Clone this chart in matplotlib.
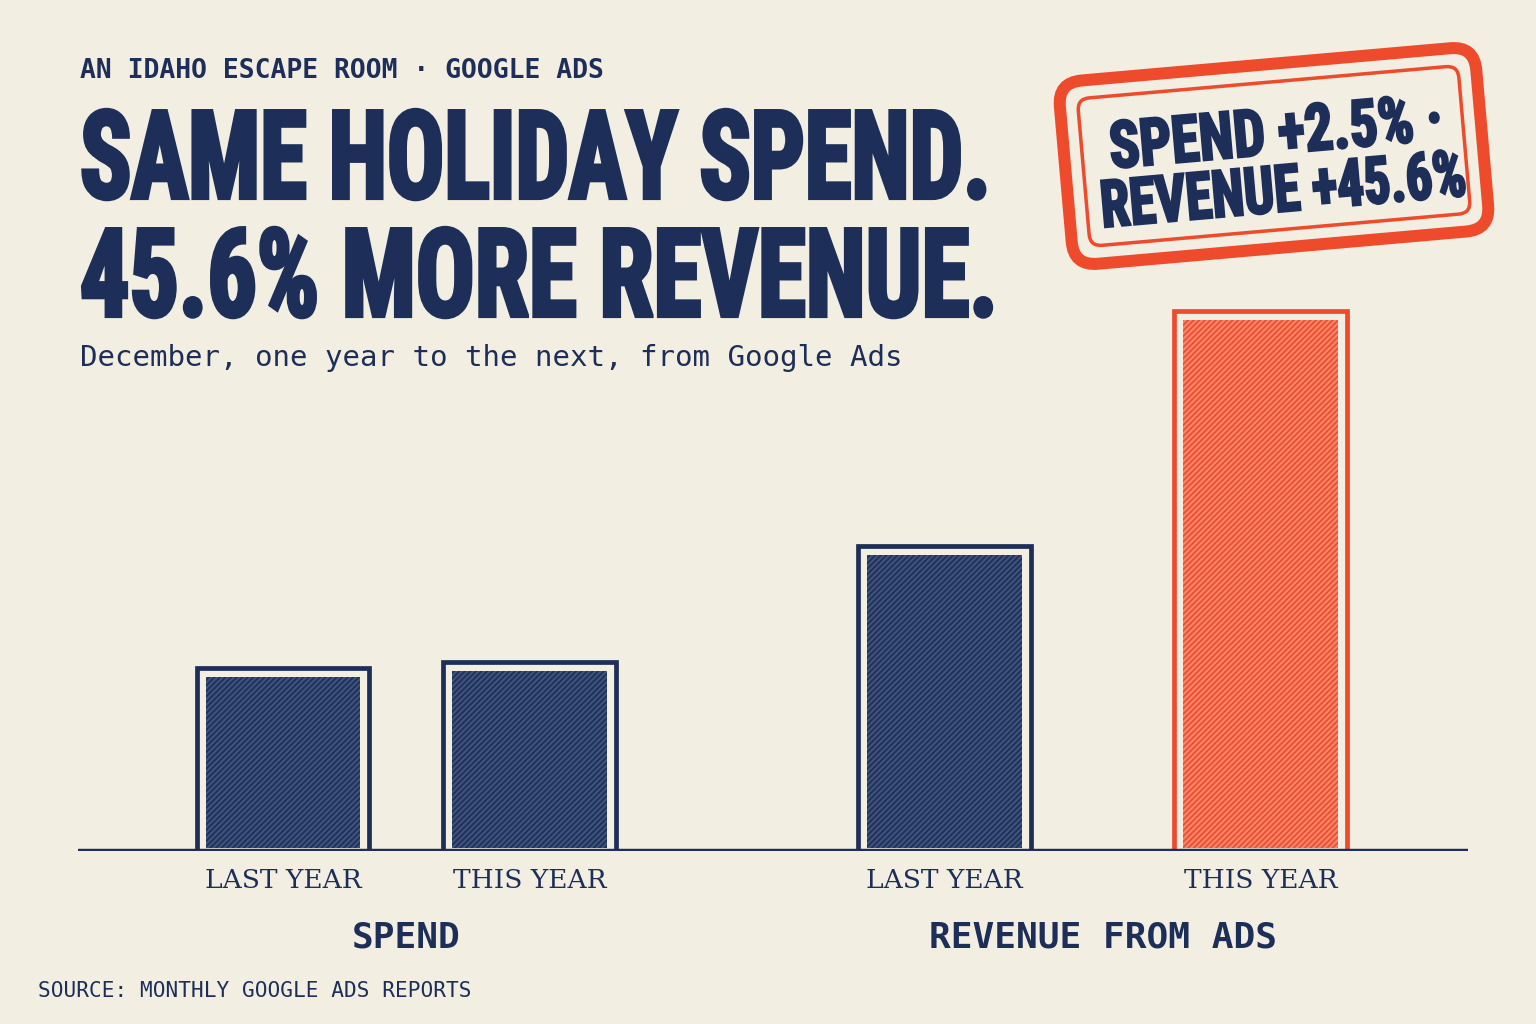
import math
import matplotlib
matplotlib.use('Agg')
import matplotlib.pyplot as plt
from matplotlib import font_manager
from matplotlib.patches import FancyBboxPatch
from matplotlib.transforms import Affine2D, Bbox, blended_transform_factory
from matplotlib.patheffects import AbstractPathEffect

# ---------------- data ----------------
categories = ['LAST YEAR', 'THIS YEAR', 'LAST YEAR', 'THIS YEAR']
groups = ['SPEND', 'REVENUE FROM ADS']
spend_values = [183, 189]        # bar heights (relative units)
revenue_values = [305, 540]
kicker = 'AN IDAHO ESCAPE ROOM · GOOGLE ADS'
headline = ['SAME HOLIDAY SPEND.', '45.6% MORE REVENUE.']
subtitle = 'December, one year to the next, from Google Ads'
stamp_lines = ['SPEND +2.5% ·', 'REVENUE +45.6%']
source = 'SOURCE: MONTHLY GOOGLE ADS REPORTS'

NAVY = '#1d2f58'
RED = '#ee4b2d'
BG = '#f3eee2'
W, H = 1536, 1024

plt.rcParams['hatch.linewidth'] = 1.6

# pick the narrowest available display family
_names = {f.name for f in font_manager.fontManager.ttflist}
DISPLAY = 'DejaVu Sans'
for cand in ['Roboto Condensed', 'Liberation Sans Narrow', 'Open Sans Condensed']:
    if cand in _names:
        DISPLAY = cand
        break


class Squeeze(AbstractPathEffect):
    """Draw text horizontally condensed (and optionally thickened)."""
    def __init__(self, sx, anchor='left', stroke=0.0):
        super().__init__()
        self.sx, self.anchor, self.stroke = sx, anchor, stroke

    def draw_path(self, renderer, gc, tpath, affine, rgbFace=None):
        if self.anchor == 'center':
            ext = tpath.get_extents()
            c = 0.5 * (ext.x0 + ext.x1)
        else:
            c = 0.0
        tr = Affine2D().translate(-c, 0).scale(self.sx, 1).translate(c, 0) + affine
        gc0 = renderer.new_gc()
        gc0.copy_properties(gc)
        if self.stroke > 0 and rgbFace is not None:
            gc0.set_linewidth(self.stroke)
            gc0.set_foreground(rgbFace)
            gc0.set_joinstyle('miter')
        renderer.draw_path(gc0, tpath, tr, rgbFace)
        gc0.restore()


def squeeze_text(t, sx, anchor, stroke):
    t.set_path_effects([Squeeze(sx, anchor, stroke)])
    orig = t.get_window_extent

    def _extent(renderer=None, dpi=None):
        bb = orig(renderer, dpi)
        if anchor == 'center':
            c = 0.5 * (bb.x0 + bb.x1)
        else:
            c = bb.x0
        return Bbox([[c + (bb.x0 - c) * sx, bb.y0], [c + (bb.x1 - c) * sx, bb.y1]])
    t.get_window_extent = _extent


fig = plt.figure(figsize=(W / 100, H / 100), dpi=100, facecolor=BG)
pix = Affine2D().scale(1 / W, 1 / H) + fig.transFigure

# ---------------- bars ----------------
ax = fig.add_axes([78 / W, (H - 851) / H, (1468 - 78) / W, (851 - 300) / H])
ax.set_facecolor('none')
positions = [0, 1, 2.68, 3.96]
values = spend_values + revenue_values
colors = [NAVY, NAVY, NAVY, RED]
hatch_colors = ['#3e527c', '#3e527c', '#3e527c', '#f8866a']
xunit = 247.0
bw = 0.70
inset_x = 9 / xunit
inset_y = 9

ax.bar(positions, values, width=bw, facecolor='none', edgecolor=colors,
       linewidth=3.4, zorder=3)
ax.bar(positions, [v - inset_y - 3 for v in values], bottom=3,
       width=bw - 2 * inset_x, color=colors, edgecolor=hatch_colors,
       linewidth=0, hatch='//////', zorder=2)
ax.axhline(0, color=NAVY, lw=3.2, zorder=4)
ax.set_xlim(-0.83, 4.80)
ax.set_ylim(0, 551)
for s in ax.spines.values():
    s.set_visible(False)
ax.set_yticks([])
ax.set_xticks(positions, categories)
for lab in ax.get_xticklabels():
    lab.set_fontfamily('DejaVu Serif')
    lab.set_fontsize(19)
    lab.set_color(NAVY)
ax.tick_params(axis='x', length=0, pad=12)

trans = blended_transform_factory(ax.transData, ax.transAxes)
group_x = [(positions[0] + positions[1]) / 2, (positions[2] + positions[3]) / 2]
for gx, g in zip(group_x, groups):
    ax.text(gx, -(947 - 851) / 551, g, transform=trans, ha='center', va='baseline',
            fontfamily='DejaVu Sans Mono', fontweight='bold', fontsize=26, color=NAVY)

# ---------------- texts ----------------
fig.text(80, H - 78, kicker, transform=pix, ha='left', va='baseline',
         fontfamily='DejaVu Sans Mono', fontweight='bold', fontsize=19, color=NAVY)

heads = []
for line, base in zip(headline, [200, 318]):
    t = fig.text(80, H - base + 2, line, transform=pix, ha='left', va='baseline',
                 fontfamily=DISPLAY, fontweight='bold', fontstretch='condensed',
                 fontsize=88, color=NAVY)
    heads.append(t)

fig.text(80, H - 366, subtitle, transform=pix, ha='left', va='baseline',
         fontfamily='DejaVu Sans Mono', fontsize=21, color=NAVY)
fig.text(38, H - 997, source, transform=pix, ha='left', va='baseline',
         fontfamily='DejaVu Sans Mono', fontsize=15.2, color=NAVY)

# ---------------- stamp ----------------
cx, cy = 1274, H - 156
rot = Affine2D().rotate_deg_around(cx, cy, 5) + pix
outer = FancyBboxPatch((cx - 209, cy - 92), 418, 184,
                       boxstyle='round,pad=0,rounding_size=24',
                       lw=12 * 0.72, ec=RED, fc='none', transform=rot)
inner = FancyBboxPatch((cx - 191, cy - 74), 382, 148,
                       boxstyle='round,pad=0,rounding_size=12',
                       lw=3.5 * 0.72, ec=RED, fc='none', transform=rot)
fig.add_artist(outer)
fig.add_artist(inner)

stamps = []
for line, (dx, dy) in zip(stamp_lines, [(4, 2), (6, -56)]):
    t = fig.text(cx + dx, cy + dy, line, transform=rot, rotation=5,
                 rotation_mode='anchor', ha='center', va='baseline',
                 fontfamily=DISPLAY, fontweight='bold', fontstretch='condensed',
                 fontsize=47, color=NAVY)
    stamps.append(t)

# ---------------- condense the display type to fit ----------------
fig.canvas.draw()
r = fig.canvas.get_renderer()
head_targets = [915, 922]
head_stroke = 3.0
for t, target in zip(heads, head_targets):
    w = t.get_window_extent(r).width
    squeeze_text(t, (target - head_stroke * 100 / 72) / w, 'left', head_stroke)

stamp_stroke = 1.8
stamp_targets = [332, 364]
for t, target in zip(stamps, stamp_targets):
    bb = t.get_window_extent(r)
    w_unrot = (bb.width - bb.height * math.sin(math.radians(5))) / math.cos(math.radians(5))
    squeeze_text(t, target / w_unrot, 'center', stamp_stroke)

fig.savefig('out.png', dpi=100, facecolor=BG)
